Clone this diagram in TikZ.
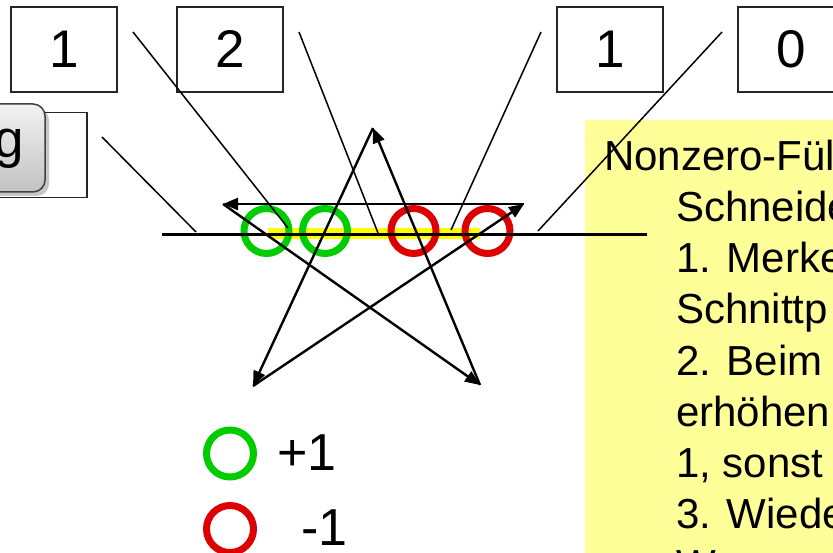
\documentclass[tikz,border=0pt]{standalone}
\usepackage{fontspec}
\setmainfont{Liberation Sans}
\usetikzlibrary{arrows.meta}
\definecolor{notebg}{HTML}{FFFF99}
\definecolor{hiyellow}{HTML}{FFFF00}
\definecolor{plusgreen}{HTML}{00CC00}
\definecolor{minusred}{HTML}{DD0000}
\tikzset{
  numbox/.style={draw=black!85, line width=1.6pt, fill=white, minimum width=106pt,
    minimum height=85pt, inner sep=0pt, font=\fontsize{53}{60}\selectfont},
  leader/.style={line width=1.5pt, black},
  edgearrow/.style={line width=2.4pt, black, -{Triangle[length=15pt,width=12pt]}},
  ring/.style={line width=7pt},
  bigtext/.style={inner sep=0pt, font=\fontsize{52}{60}\selectfont},
  notetext/.style={inner sep=0pt, anchor=base west, font=\fontsize{42}{50}\selectfont},
}
\begin{document}
\begin{tikzpicture}[x=1pt,y=-1pt]
\useasboundingbox (0,0) rectangle (833,553);
\clip (0,0) rectangle (833,553);

% note panel with the rule text
\fill[notebg] (585,120) rectangle (845,560);
\node[notetext] (t0) at (604,171) {Nonzero-Fül};
\node[notetext] (t1) at (676,222) {Schneide};
\node[notetext] (t2) at (676,273) {1. Merke};
\node[notetext] (t3) at (676,324) {Schnittp};
\node[notetext] (t4) at (676,375) {2. Beim};
\node[notetext] (t5) at (676,426) {erhöhen};
\node[notetext] (t6) at (676,477) {1, sonst};
\node[notetext] (t7) at (676,528) {3. Wiede};
\node[notetext] (t8) at (676,579) {W};

% counter boxes
\node[numbox] (b1) at (64,49.5) {1};
\node[numbox] (b2) at (230,49.5) {2};
\node[numbox] (b3) at (610,49.5) {1};
\node[numbox] (b4) at (791,49.5) {0};
\node[numbox] (b0) at (34,155) {};

% start button over the first box
\fill[black,opacity=0.22,rounded corners=12pt] (-18,108) rectangle (49,196);
\shade[top color=black!5, bottom color=black!24, draw=black!75, line width=1.5pt,
  rounded corners=12pt] (-22,104) rectangle (45,192);
\node[inner sep=0pt, anchor=base east, font=\fontsize{53}{60}\selectfont] (gbtn) at (24,158) {g};

% highlighted span on the scan line
\fill[hiyellow] (268,228) rectangle (480,239);

% crossing markers
\coordinate (c1) at (266.5,231);
\coordinate (c2) at (325,231);
\coordinate (c3) at (413.5,231);
\coordinate (c4) at (487.5,231);
\draw[ring, plusgreen] (c1) circle[radius=22.5];
\draw[ring, plusgreen] (c2) circle[radius=22.5];
\draw[ring, minusred] (c3) circle[radius=22.5];
\draw[ring, minusred] (c4) circle[radius=22.5];

% scan line
\coordinate (s0) at (162,234.5);
\coordinate (s1) at (647,234.5);
\draw[line width=3.2pt] (s0) -- (s1);

% star polygon with directed edges
\coordinate (T)  at (373,128);
\coordinate (UL) at (223,204);
\coordinate (UR) at (524,204);
\coordinate (BL) at (253,386);
\coordinate (BR) at (480,385);
\draw[edgearrow] (UR) -- (UL);
\draw[edgearrow] (UL) -- (BR);
\draw[edgearrow] (BR) -- (T);
\draw[edgearrow] (T) -- (BL);
\draw[edgearrow] (BL) -- (UR);

% leaders from the counters to the scan line
\coordinate (l0a) at (102,137);  \coordinate (l0b) at (196,232);
\coordinate (l1a) at (133,32);   \coordinate (l1b) at (288,228);
\coordinate (l2a) at (299,32);   \coordinate (l2b) at (378,233);
\coordinate (l3a) at (541,32);   \coordinate (l3b) at (451,230);
\coordinate (l4a) at (722,32);   \coordinate (l4b) at (538,231);
\draw[leader] (l0a) -- (l0b);
\draw[leader] (l1a) -- (l1b);
\draw[leader] (l2a) -- (l2b);
\draw[leader] (l3a) -- (l3b);
\draw[leader] (l4a) -- (l4b);

% legend
\coordinate (lg1) at (230,453.5);
\coordinate (lg2) at (230,529);
\draw[ring, plusgreen] (lg1) circle[radius=23.5];
\draw[ring, minusred] (lg2) circle[radius=23.5];
\node[bigtext, anchor=base west] (plus) at (277,470) {+1};
\node[bigtext, anchor=base west] (minus) at (301,545) {-1};
\end{tikzpicture}
\end{document}
